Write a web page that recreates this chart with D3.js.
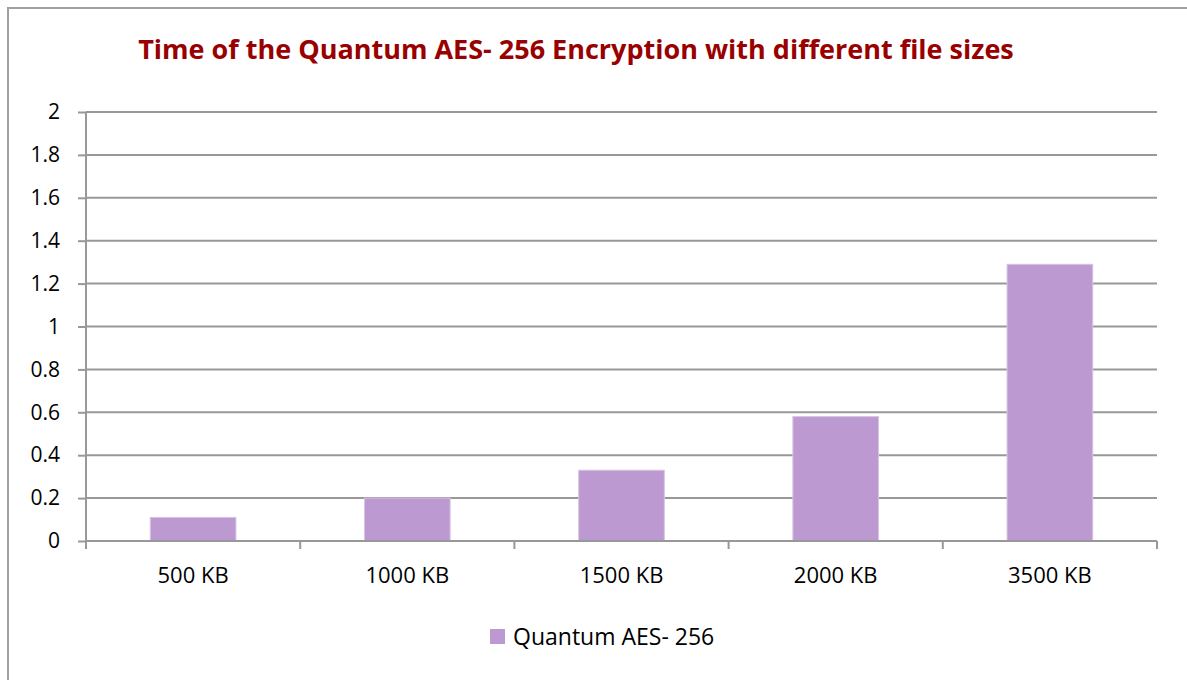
<!DOCTYPE html>
<html><head><meta charset="utf-8">
<script src="https://cdn.jsdelivr.net/npm/d3@7"></script>
<style>body{margin:0;background:#fff}svg{display:block}</style>
</head><body>
<script>
const categories = ["500 KB","1000 KB","1500 KB","2000 KB","3500 KB"];
const values = [0.11, 0.2, 0.33, 0.58, 1.29];
const yTicks = [0,0.2,0.4,0.6,0.8,1,1.2,1.4,1.6,1.8,2];
const seriesName = "Quantum AES- 256";
const title = "Time of the Quantum AES- 256 Encryption with different file sizes";

const W=1187,H=680;
const svg=d3.select("body").append("svg").attr("width",W).attr("height",H);
const font="'Open Sans', 'Noto Sans', sans-serif";
// outer frame
svg.append("path").attr("d","M8,680 V8 H1187").attr("fill","none").attr("stroke","#a0a0a0").attr("stroke-width",2);

const x0=86,x1=1157,yTop=112,yBot=541;
const x=d3.scaleBand().domain(categories).range([x0,x1]).paddingInner(0.6).paddingOuter(0.3);
const xb=d3.scaleBand().domain(categories).range([x0,x1]);
const y=d3.scaleLinear().domain([0,2]).range([yBot,yTop]);

// gridlines
svg.append("g").selectAll("line").data(yTicks.slice(1)).join("line")
 .attr("x1",x0).attr("x2",x1).attr("y1",d=>y(d)).attr("y2",d=>y(d))
 .attr("stroke","#989898").attr("stroke-width",2);

// bars
svg.append("g").selectAll("rect").data(values).join("rect")
 .attr("x",(d,i)=>x(categories[i])).attr("width",x.bandwidth())
 .attr("y",d=>y(d)).attr("height",d=>yBot-y(d))
 .attr("fill","#BD99D1").attr("stroke","#D8C4E4").attr("stroke-width",1);

// y axis
const ya=svg.append("g").attr("transform",`translate(${x0},0)`)
 .call(d3.axisLeft(y).tickValues(yTicks).tickSize(8).tickPadding(18).tickFormat(d=>d3.format("")(+d.toFixed(1))));
ya.select(".domain").attr("stroke","#989898").attr("stroke-width",2).attr("d",`M0,${yTop}V${yBot}`);
ya.selectAll(".tick line").attr("stroke","#989898").attr("stroke-width",2);
ya.selectAll(".tick text").attr("font-family",font).attr("font-size",21).attr("fill","#000");

// x axis
const xa=svg.append("g").attr("transform",`translate(0,${yBot})`)
 .call(d3.axisBottom(xb).tickSize(0).tickPadding(26));
xa.select(".domain").attr("stroke","#989898").attr("stroke-width",2).attr("d",`M${x0},0H${x1}`);
xa.selectAll(".tick text").attr("font-family",font).attr("font-size",22).attr("fill","#000");
const bounds=[x0,...categories.map(c=>xb(c)+xb.bandwidth())];
xa.append("g").selectAll("line").data(bounds).join("line")
 .attr("x1",d=>d).attr("x2",d=>d).attr("y1",0).attr("y2",8)
 .attr("stroke","#989898").attr("stroke-width",2);

// title
svg.append("text").attr("x",576).attr("y",59).attr("text-anchor","middle")
 .attr("font-family",font).attr("font-weight","bold").attr("font-size",27).attr("fill","#990000").text(title);

// legend
svg.append("rect").attr("x",490).attr("y",629).attr("width",15).attr("height",15).attr("fill","#BD99D1");
svg.append("text").attr("x",513).attr("y",645).attr("font-family",font).attr("font-size",23).attr("fill","#000").text(seriesName);
</script>
</body></html>
